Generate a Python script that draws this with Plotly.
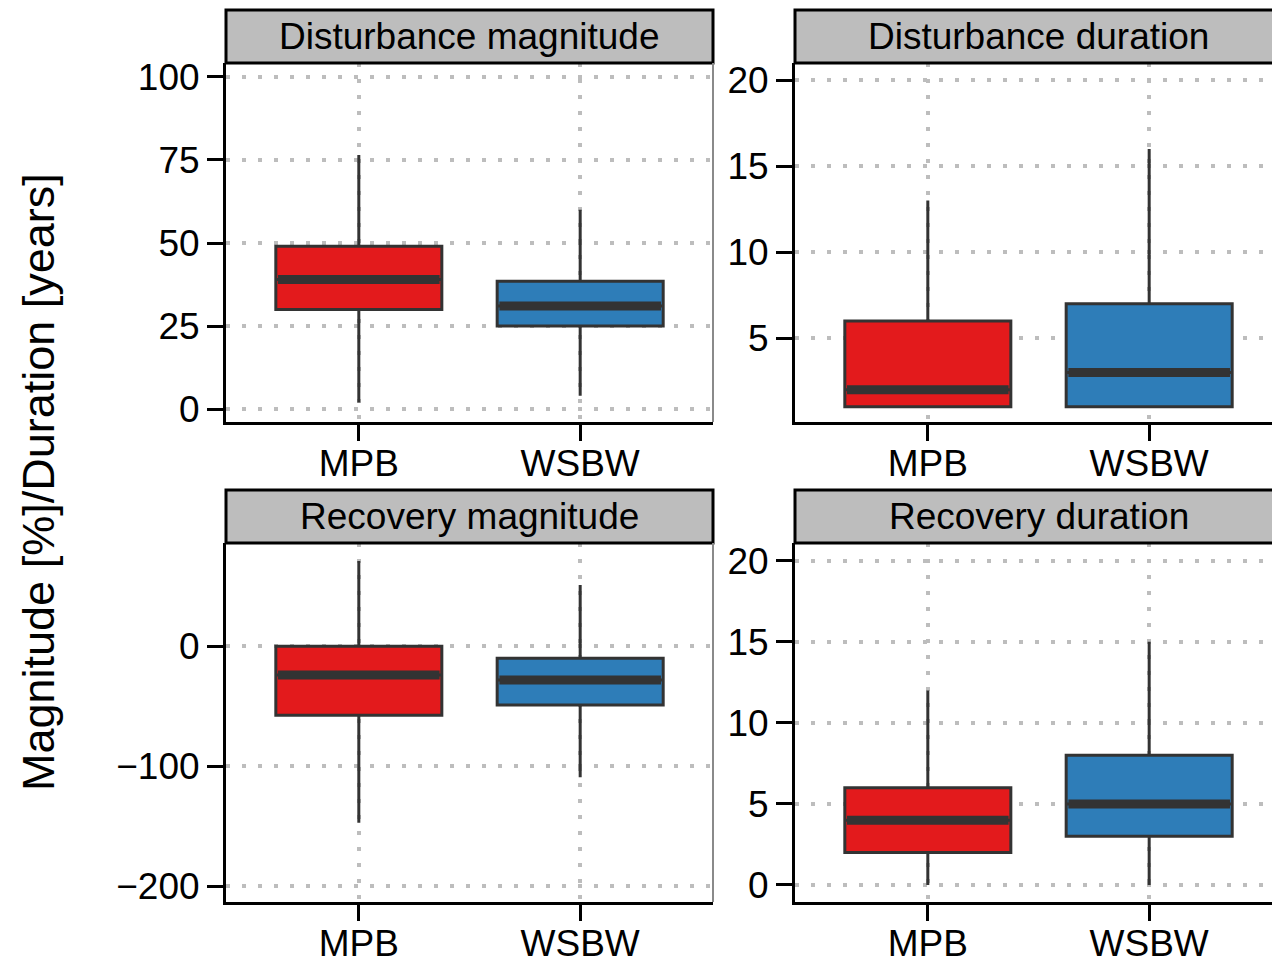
import plotly.graph_objects as go

categories = ["MPB", "WSBW"]
colors = ["#E31A1C", "#2E7DB8"]

panel_titles = ["Disturbance magnitude", "Disturbance duration",
                "Recovery magnitude", "Recovery duration"]

# box statistics per panel: [MPB, WSBW]
dist_mag_q1 = [30, 25]
dist_mag_med = [39, 31]
dist_mag_q3 = [49, 38.5]
dist_mag_lo = [2, 4]
dist_mag_hi = [76.5, 60]

dist_dur_q1 = [1, 1]
dist_dur_med = [2, 3]
dist_dur_q3 = [6, 7]
dist_dur_lo = [1, 1]
dist_dur_hi = [13, 16]

rec_mag_q1 = [-57.5, -49]
rec_mag_med = [-24, -28]
rec_mag_q3 = [0, -10]
rec_mag_lo = [-147, -109]
rec_mag_hi = [71, 51]

rec_dur_q1 = [2, 3]
rec_dur_med = [4, 5]
rec_dur_q3 = [6, 8]
rec_dur_lo = [0, 0]
rec_dur_hi = [12, 15]

yticks = [[0, 25, 50, 75, 100], [5, 10, 15, 20], [-200, -100, 0], [0, 5, 10, 15, 20]]
yranges = [[-3.9, 104.2], [0.12, 21.0], [-213, 86], [-1.05, 21.1]]

y_title = "Magnitude [%]/Duration [years]"

stats = [
    (dist_mag_q1, dist_mag_med, dist_mag_q3, dist_mag_lo, dist_mag_hi),
    (dist_dur_q1, dist_dur_med, dist_dur_q3, dist_dur_lo, dist_dur_hi),
    (rec_mag_q1, rec_mag_med, rec_mag_q3, rec_mag_lo, rec_mag_hi),
    (rec_dur_q1, rec_dur_med, rec_dur_q3, rec_dur_lo, rec_dur_hi),
]

W, H = 1272, 963
FONT = "Liberation Sans, Arial, Helvetica, sans-serif"
BOXW = 0.75
px_per_unit = 487 / 2.2

# layout in pixels
col_x = [(226, 713), (795, 1272)]
row_y = [(63, 422), (543, 902)]
strip_y = [(10, 63), (490, 543)]

fig = go.Figure()
layout = dict(width=W, height=H, margin=dict(l=0, r=0, t=0, b=0, autoexpand=False),
              paper_bgcolor="white", plot_bgcolor="white", showlegend=False,
              font=dict(family=FONT, color="black", size=37))
shapes = []
annotations = []

for p in range(4):
    r, c = divmod(p, 2)
    ax = "" if p == 0 else str(p + 1)
    xa, ya = "x" + ax, "y" + ax
    q1, med, q3, lo, hi = stats[p]
    pos = [i + 1 for i in range(len(categories))]
    for i in range(len(categories)):
        fig.add_trace(go.Box(
            x=[pos[i]], q1=[q1[i]], median=[med[i]], q3=[q3[i]],
            lowerfence=[lo[i]], upperfence=[hi[i]],
            width=BOXW, whiskerwidth=0, fillcolor=colors[i],
            line=dict(color="#333333", width=3),
            boxpoints=False, xaxis=xa, yaxis=ya, name=categories[i]))
        fig.add_trace(go.Scatter(
            x=[pos[i] - BOXW / 2 + 0.01, pos[i] + BOXW / 2 - 0.01],
            y=[med[i], med[i]], mode="lines",
            line=dict(color="#333333", width=9),
            xaxis=xa, yaxis=ya, hoverinfo="skip"))

    x0, x1 = col_x[c]
    y0, y1 = row_y[r]
    xr = [0.4, 0.4 + (x1 - x0) / px_per_unit]
    common = dict(showline=True, linecolor="black", linewidth=3,
                  ticks="outside", ticklen=16, tickwidth=3, tickcolor="black",
                  showgrid=True, gridcolor="#bdbdbd", gridwidth=3.5,
                  griddash="4px,12px", zeroline=False, automargin=False,
                  tickfont=dict(family=FONT, size=37, color="black"))
    layout["xaxis" + ax] = dict(domain=[x0 / W, x1 / W], range=xr,
                                tickvals=pos, ticktext=categories,
                                anchor=ya, ticklabelstandoff=-9, **common)
    layout["yaxis" + ax] = dict(domain=[1 - y1 / H, 1 - y0 / H], range=yranges[p],
                                tickvals=yticks[p], anchor=xa,
                                ticklabelstandoff=0, **common)

    # strip
    sy0, sy1 = strip_y[r]
    sx1 = x0 + 487
    shapes.append(dict(type="rect", xref="paper", yref="paper",
                       x0=x0 / W, x1=sx1 / W, y0=1 - sy1 / H, y1=1 - sy0 / H,
                       fillcolor="#bdbdbd", line=dict(color="black", width=3),
                       layer="above"))
    annotations.append(dict(text=panel_titles[p], xref="paper", yref="paper",
                            x=(x0 + sx1) / 2 / W, y=1 - (sy0 + sy1) / 2 / H,
                            showarrow=False, xanchor="center", yanchor="middle",
                            font=dict(family=FONT, size=37, color="black")))
    if c == 0:
        shapes.append(dict(type="line", xref="paper", yref="paper",
                           x0=x1 / W, x1=x1 / W, y0=1 - y1 / H, y1=1 - y0 / H,
                           line=dict(color="#8a8a8a", width=2), layer="above"))

annotations.append(dict(text=y_title, xref="paper", yref="paper",
                        x=38 / W, y=1 - 482 / H, textangle=-90, showarrow=False,
                        xanchor="center", yanchor="middle",
                        font=dict(family=FONT, size=45, color="black")))

layout["shapes"] = shapes
layout["annotations"] = annotations
fig.update_layout(**layout)
fig.write_html("out.html", config={"displayModeBar": False},
               post_script="document.body.style.margin='0px';document.body.style.overflow='hidden';")
